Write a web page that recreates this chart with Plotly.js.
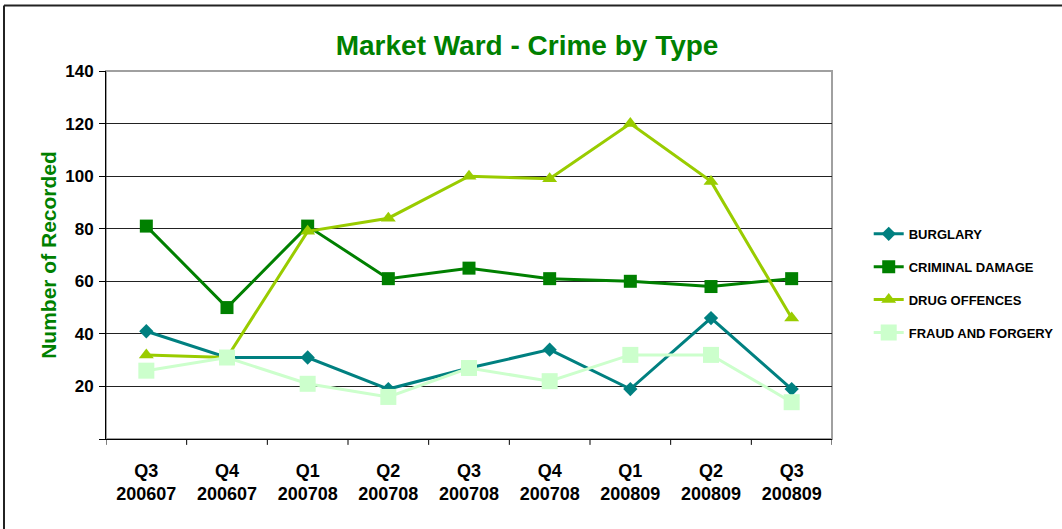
<!DOCTYPE html>
<html>
<head>
<meta charset="utf-8">
<script src="https://cdn.plot.ly/plotly-3.0.1.min.js"></script>
<style>html,body{margin:0;padding:0;background:#fff;}#chart{width:1062px;height:529px;}</style>
</head>
<body>
<div id="chart"></div>
<script>
const categories = ["Q3<br>200607","Q4<br>200607","Q1<br>200708","Q2<br>200708","Q3<br>200708","Q4<br>200708","Q1<br>200809","Q2<br>200809","Q3<br>200809"];
const burglary = [41, 31, 31, 19, 27, 34, 19, 46, 19];
const criminalDamage = [81, 50, 81, 61, 65, 61, 60, 58, 61];
const drugOffences = [32, 31, 79, 84, 100, 99, 120, 98, 46];
const fraudForgery = [26, 31, 21, 16, 27, 22, 32, 32, 14];
const yTicks = [0, 20, 40, 60, 80, 100, 120, 140];
const yTickText = ["", "20", "40", "60", "80", "100", "120", "140"];

const FONT = '"Liberation Sans Narrow", "Liberation Sans", "DejaVu Sans", sans-serif';
const idx = categories.map((c, i) => i);

function series(name, y, color, symbol, size) {
  return {
    type: 'scatter', mode: 'lines+markers', name: name, legendgroup: name,
    x: idx, y: y,
    line: {color: color, width: 3},
    marker: {color: color, symbol: symbol, size: size}
  };
}

const data = [
  series('BURGLARY', burglary, '#008080', 'diamond', 11),
  series('CRIMINAL DAMAGE', criminalDamage, '#008000', 'square', 13),
  series('DRUG OFFENCES', drugOffences, '#99CC00', 'triangle-up', 13),
  series('FRAUD AND FORGERY', fraudForgery, '#CCFFCC', 'square', 16)
];

function f(size, color, extra) {
  return Object.assign({family: FONT, size: size, color: color, weight: 'bold', stretch: 'condensed'}, extra || {});
}

const layout = {
  width: 1062, height: 529,
  margin: {l: 106, r: 230, t: 71, b: 90, pad: 0},
  paper_bgcolor: '#ffffff', plot_bgcolor: '#ffffff',
  font: f(16, '#000'),
  title: {text: 'Market Ward - Crime by Type', xref: 'paper', x: 0.58, xanchor: 'center', y: 0.915, yanchor: 'middle',
          font: f(28, '#008000')},
  showlegend: true,
  legend: {xref: 'container', x: 0.818, xanchor: 'left', y: 0.423, yanchor: 'middle',
           font: f(13, '#000'),
           tracegroupgap: 13, itemwidth: 30, bgcolor: 'rgba(0,0,0,0)'},
  xaxis: {
    range: [-0.5, 8.5], tickvals: idx, ticktext: categories,
    showgrid: false, zeroline: false, showline: true, linecolor: '#000', linewidth: 1,
    ticks: '', ticklabelstandoff: 15, tickfont: f(18, '#000'), fixedrange: true
  },
  yaxis: {
    range: [0, 140], tickvals: yTicks, ticktext: yTickText,
    showgrid: true, gridcolor: '#222', gridwidth: 1, zeroline: false,
    showline: true, linecolor: '#000', linewidth: 1, ticks: 'outside', ticklen: 6, tickcolor: '#000',
    ticklabelstandoff: 2,
    tickfont: f(17, '#000'),
    title: {text: 'Number of Recorded', standoff: 2, font: f(21, '#008000')}
  },
  shapes: [
    {type: 'rect', xref: 'paper', yref: 'paper', x0: 0, x1: 1, y0: 0, y1: 1, line: {color: '#a0a0a0', width: 2}, layer: 'below'},
    {type: 'line', xref: 'paper', yref: 'paper', x0: -0.1405, x1: 1.32, y0: 1.178, y1: 1.178, line: {color: '#222', width: 2}},
    {type: 'line', xref: 'paper', yref: 'paper', x0: -0.1405, x1: -0.1405, y0: -0.3, y1: 1.178, line: {color: '#222', width: 2}}
  ]
};

for (let i = 0; i <= 9; i++) {
  layout.shapes.push({type: 'line', xref: 'x', yref: 'paper', x0: i - 0.5, x1: i - 0.5, y0: 0, y1: -0.016, line: {color: '#000', width: 1}});
}

Plotly.newPlot('chart', data, layout, {displayModeBar: false, staticPlot: true});
</script>
</body>
</html>
